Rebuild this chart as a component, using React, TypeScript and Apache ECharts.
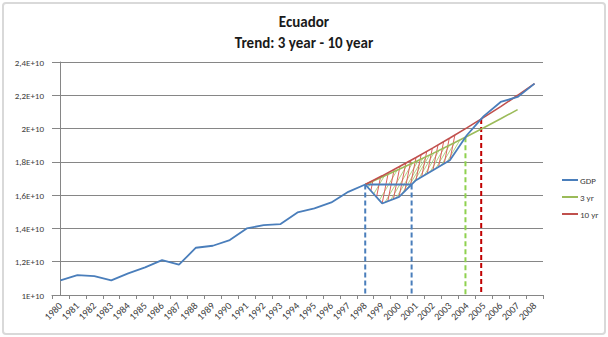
import React, { useEffect, useRef } from 'react';
import * as echarts from 'echarts';

const years = ['1980','1981','1982','1983','1984','1985','1986','1987','1988','1989','1990','1991','1992','1993','1994','1995','1996','1997','1998','1999','2000','2001','2002','2003','2004','2005','2006','2007','2008'];

const gdp = [1.088e10,1.12e10,1.114e10,1.088e10,1.13e10,1.166e10,1.21e10,1.182e10,1.284e10,1.296e10,1.33e10,1.40e10,1.42e10,1.426e10,1.496e10,1.52e10,1.556e10,1.62e10,1.664e10,1.55e10,1.59e10,1.69e10,1.75e10,1.81e10,1.96e10,2.075e10,2.16e10,2.19e10,2.27e10];

const N = null;
const trend3 = [N,N,N,N,N,N,N,N,N,N,N,N,N,N,N,N,N,N,1.664e10,1.709e10,1.755e10,1.802e10,1.851e10,1.901e10,1.952e10,2.005e10,2.059e10,2.114e10,N];
const trend10 = [N,N,N,N,N,N,N,N,N,N,N,N,N,N,N,N,N,N,1.664e10,1.716e10,1.771e10,1.826e10,1.884e10,1.943e10,2.004e10,2.067e10,2.132e10,2.2e10,2.27e10];

// fractional category positions (year index)
const baseIdx = 18;          // 1998
const baseCrossIdx = 20.74;  // GDP back at 1998 level
const hatchEndIdx = 23;      // 2003
const cross3Idx = 23.92;
const cross3Value = 1.948e10;
const cross10Idx = 24.85;
const cross10Value = 2.058e10;
const yMin = 1e10;
const yMax = 2.4e10;
const yStep = 0.2e10;

const BLUE = '#4a7ebb';
const GREEN = '#9bbb59';
const RED = '#c0504d';
const FONT = 'Carlito, "Liberation Sans Narrow", "Liberation Sans", sans-serif';

function interp(arr: (number | null)[], t: number): number {
  const i = Math.min(Math.floor(t), arr.length - 2);
  const f = t - i;
  const a = arr[i] as number;
  const b = (arr[i + 1] ?? arr[i]) as number;
  return a + (b - a) * f;
}

export default function App() {
  const ref = useRef<HTMLDivElement>(null);
  useEffect(() => {
    if (!ref.current) return;
    const chart = echarts.init(ref.current, null, { renderer: 'svg' });

    const hatch = (params: any, api: any) => {
      if (params.dataIndex !== 0) return null;
      const band = api.coord([1, yMin])[0] - api.coord([0, yMin])[0];
      const children: any[] = [];
      const make = (trend: (number | null)[], k: number, color: string, offset: number) => {
        for (let t = baseIdx + offset; t <= hatchEndIdx + 1e-6; t += 1 / 3) {
          const b = api.coord([t, interp(gdp, t)]);
          let tt = t;
          let top = api.coord([tt, interp(trend, tt)]);
          for (let it = 0; it < 3; it++) {
            const dx = k * (b[1] - top[1]);
            tt = Math.min(t + dx / band, 27.99);
            top = api.coord([tt, interp(trend, tt)]);
          }
          if (b[1] - top[1] < 1) continue;
          children.push({
            type: 'line',
            shape: { x1: b[0], y1: b[1], x2: top[0], y2: top[1] },
            style: { stroke: color, lineWidth: 1 },
          });
        }
      };
      make(trend3, 0.6, '#b3d585', 1 / 6);
      make(trend10, 0.2, '#dc5f5b', 0);
      return { type: 'group', children };
    };

    const dashed = (name: string, data: number[][], color: string) => ({
      name,
      type: 'line',
      xAxisIndex: 1,
      data,
      symbol: 'none',
      lineStyle: { color, width: 2, type: [5, 3] },
      z: 3,
      silent: true,
    });

    chart.setOption({
      animation: false,
      backgroundColor: '#ffffff',
      graphic: [
        {
          type: 'rect',
          shape: { x: 3, y: 3, width: 602, height: 331, r: 3 },
          style: { fill: 'none', stroke: '#d9d9d9', lineWidth: 2 },
          silent: true,
        },
      ],
      title: {
        text: 'Ecuador\nTrend: 3 year - 10 year',
        left: 'center',
        top: 6,
        textStyle: { fontFamily: FONT, fontSize: 15, fontWeight: 'bold', color: '#1a1a1a', lineHeight: 21 },
      },
      legend: {
        data: ['GDP', '3 yr', '10 yr'],
        orient: 'vertical',
        left: 557,
        top: 170,
        icon: 'rect',
        itemWidth: 16,
        itemHeight: 2,
        itemGap: 7,
        textStyle: { fontFamily: FONT, fontSize: 9, color: '#404040', padding: [0, 0, 0, -3], lineHeight: 10 },
      },
      grid: { left: 52, right: 65, top: 62, bottom: 42, containLabel: false },
      xAxis: [
        {
          type: 'category',
          data: years,
          boundaryGap: true,
          axisLine: { lineStyle: { color: '#868686', width: 1 } },
          axisTick: { show: true, interval: 0, length: 4, lineStyle: { color: '#868686' } },
          axisLabel: { interval: 0, rotate: 45, fontSize: 10, fontFamily: FONT, color: '#404040', margin: 9 },
          splitLine: { show: false },
        },
        {
          type: 'value',
          min: -0.5,
          max: 28.5,
          show: false,
        },
      ],
      yAxis: {
        type: 'value',
        min: yMin,
        max: yMax,
        interval: yStep,
        axisLine: { show: true, lineStyle: { color: '#868686' } },
        axisTick: { show: true, length: 4, lineStyle: { color: '#868686' } },
        axisLabel: {
          fontSize: 9,
          fontFamily: FONT,
          color: '#404040',
          margin: 8,
          formatter: (v: number) => String(Math.round(v / 1e9) / 10).replace('.', ',') + 'E+10',
        },
        splitLine: { show: true, lineStyle: { color: '#868686', width: 1 } },
      },
      series: [
        {
          type: 'custom',
          xAxisIndex: 1,
          renderItem: hatch,
          data: [[baseIdx, gdp[baseIdx]]],
          z: 1,
          silent: true,
        },
        dashed('d1', [[baseIdx, gdp[baseIdx]], [baseIdx, yMin]], BLUE),
        dashed('d2', [[baseCrossIdx, gdp[baseIdx]], [baseCrossIdx, yMin]], BLUE),
        dashed('d3', [[cross3Idx, cross3Value], [cross3Idx, yMin]], '#8fd14f'),
        dashed('d4', [[cross10Idx, cross10Value], [cross10Idx, yMin]], '#c00000'),
        {
          name: 'base',
          type: 'line',
          xAxisIndex: 1,
          data: [[baseIdx, gdp[baseIdx]], [baseCrossIdx, gdp[baseIdx]]],
          symbol: 'none',
          lineStyle: { color: BLUE, width: 2 },
          z: 3,
          silent: true,
        },
        {
          name: '3 yr',
          type: 'line',
          data: trend3,
          symbol: 'none',
          lineStyle: { color: GREEN, width: 1.6 },
          itemStyle: { color: GREEN },
          z: 4,
        },
        {
          name: '10 yr',
          type: 'line',
          data: trend10,
          symbol: 'none',
          lineStyle: { color: RED, width: 1.6 },
          itemStyle: { color: RED },
          z: 5,
        },
        {
          name: 'GDP',
          type: 'line',
          data: gdp,
          symbol: 'none',
          lineStyle: { color: BLUE, width: 1.8 },
          itemStyle: { color: BLUE },
          z: 6,
        },
      ],
    });
    return () => chart.dispose();
  }, []);

  return (
    <div
      ref={ref}
      style={{ position: 'fixed', left: 0, top: 0, width: 608, height: 337, background: '#fff' }}
    />
  );
}
